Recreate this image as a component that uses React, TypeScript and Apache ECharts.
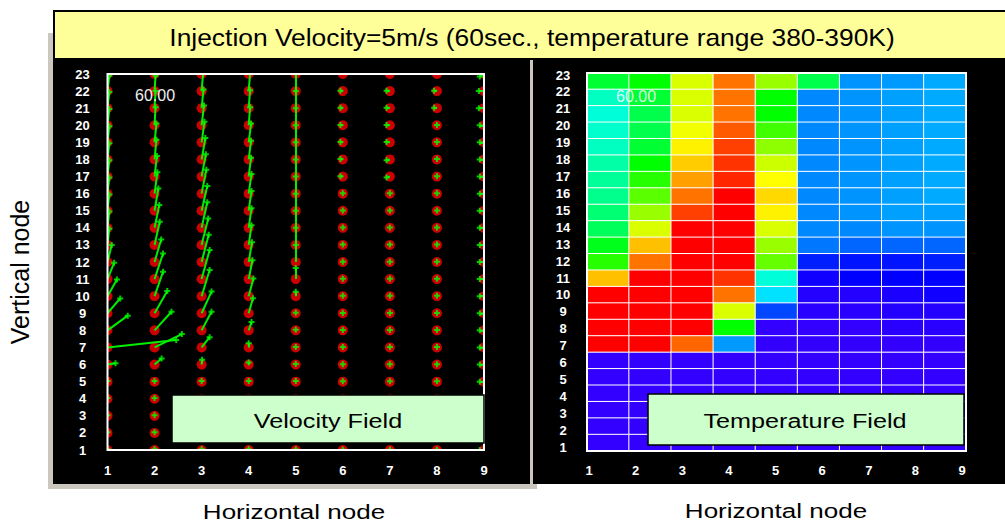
import React, { useEffect, useRef } from "react";
import * as echarts from "echarts";

// ---------- Data ----------
const xNodes = [1, 2, 3, 4, 5, 6, 7, 8, 9];
const yNodes = [1, 2, 3, 4, 5, 6, 7, 8, 9, 10, 11, 12, 13, 14, 15, 16, 17, 18, 19, 20, 21, 22, 23];
const xCategories = ["1", "2", "3", "4", "5", "6", "7", "8", "9"];
const yCategories = yNodes.map(String);

// Velocity components per column (index 0 = vertical node 1 ... index 22 = node 23), in node units
const velU = [
  [0, 0, 0, 0, 0, 0.17, 1.46, 0.43, 0.27, 0.2, 0.14, 0.09, 0.04, 0.04, 0.04, 0.04, 0.04, 0.04, 0.04, 0.04, 0.04, 0.04, 0],
  [0, 0, 0, 0, 0, 0.15, 0.58, 0.36, 0.27, 0.18, 0.18, 0.14, 0.11, 0.1, 0.08, 0.06, 0.05, 0.04, 0.04, 0.02, 0.02, 0.02, 0],
  [0, 0, 0, 0, 0, 0.01, 0.17, 0.21, 0.21, 0.17, 0.17, 0.15, 0.14, 0.12, 0.12, 0.1, 0.09, 0.08, 0.06, 0.05, 0.04, 0.03, 0],
  [0, 0, 0, 0, 0, 0, 0, 0.06, 0.09, 0.1, 0.08, 0.07, 0.06, 0.06, 0.06, 0.06, 0.05, 0.05, 0.05, 0.03, 0.03, 0.03, 0],
  [0, 0, 0, 0, 0, 0, 0, 0, 0, 0, 0, 0, 0, 0, 0, 0, 0, 0, 0, 0, 0, 0, 0],
  [0, 0, 0, 0, 0, 0, 0, 0, 0, 0, 0, 0, 0, 0, 0, 0, -0.05, -0.05, -0.05, -0.05, -0.05, -0.05, 0],
  [0, 0, 0, 0, 0, 0, 0, 0, 0, 0, 0, 0, 0, 0, 0, 0, -0.07, -0.07, -0.07, -0.07, -0.07, -0.07, 0],
  [0, 0, 0, 0, 0, 0, 0, 0, 0, 0, 0, 0, 0, 0, 0, 0, 0, 0, 0, 0, -0.06, -0.06, -0.02],
  [-0.09, -0.09, -0.09, -0.09, -0.09, -0.09, -0.09, -0.09, -0.09, -0.09, -0.09, -0.09, -0.09, -0.09, -0.09, -0.09, -0.09, -0.09, -0.09, -0.09, -0.11, -0.11, -0.09],
];
const velV = [
  [0.04, 0.04, 0.04, 0.04, 0.04, 0.08, 0.43, 0.86, 0.87, 0.98, 0.95, 0.99, 0.95, 0.95, 0.95, 0.95, 0.95, 0.95, 0.95, 0.95, 0.95, 0.9, 0.3],
  [0.04, 0.04, 0.04, 0.04, 0.04, 0.36, 0.78, 1.09, 1.3, 1.43, 1.5, 1.32, 1.35, 1.33, 1.3, 1.25, 1.2, 1.15, 1.1, 1.05, 1.0, 0.9, 0.3],
  [0.04, 0.04, 0.04, 0.04, 0.04, 0.28, 0.6, 1.09, 1.27, 1.53, 1.7, 1.6, 1.55, 1.5, 1.45, 1.4, 1.3, 1.25, 1.2, 1.15, 1.1, 1.0, 0.3],
  [0.04, 0.04, 0.04, 0.04, 0.04, 0.12, 0.24, 0.49, 0.88, 1.04, 1.1, 1.15, 1.15, 1.15, 1.15, 1.15, 1.1, 1.1, 1.1, 1.05, 1.05, 1.05, 0.3],
  [0.03, 0.03, 0.03, 0.03, 0.03, 0.03, 0.03, 0.03, 0.03, 0.26, 0.65, 1.0, 1.0, 1.0, 1.0, 1.0, 1.0, 1.0, 1.0, 1.0, 1.0, 1.0, 0.3],
  [0.02, 0.02, 0.02, 0.02, 0.02, 0.02, 0.02, 0.02, 0.02, 0.02, 0.02, 0.02, 0.02, 0.02, 0.02, 0.02, 0.02, 0.02, 0.02, 0.02, 0.02, 0.02, 0.1],
  [0.02, 0.02, 0.02, 0.02, 0.02, 0.02, 0.02, 0.02, 0.02, 0.02, 0.02, 0.02, 0.02, 0.02, 0.02, 0.02, -0.05, -0.05, 0.02, 0.02, 0.02, 0.02, 0.02],
  [0.02, 0.02, 0.02, 0.02, 0.02, 0.02, 0.02, 0.02, 0.02, 0.02, 0.02, 0.02, 0.02, 0.02, 0.02, 0.02, 0.02, 0.02, 0.02, 0.02, 0.02, 0.02, 0.02],
  [0, 0, 0, 0, 0, 0, 0, 0, 0, 0, 0, 0, 0, 0, 0, 0, 0, 0, 0, 0, 0, 0, -0.15],
];

// Temperature (K) per row, listed from vertical node 23 (top) down to node 1; columns = horizontal nodes 1..9
const tempRowsTopDown = [
  [385.6, 386.0, 387.7, 389.1, 387.2, 385.4, 382.8, 382.9, 383.1],
  [384.5, 385.6, 387.7, 389.1, 386.0, 382.6, 382.8, 383.0, 383.1],
  [384.3, 385.4, 387.7, 389.1, 386.0, 382.6, 382.8, 383.0, 383.1],
  [384.4, 385.4, 387.9, 389.3, 386.5, 382.6, 382.8, 383.0, 383.1],
  [384.5, 385.6, 388.1, 389.5, 387.1, 382.6, 382.8, 383.0, 383.1],
  [384.7, 386.0, 388.4, 389.6, 387.6, 382.6, 382.8, 383.0, 383.1],
  [384.8, 386.3, 388.75, 389.7, 388.0, 382.6, 382.8, 383.0, 383.1],
  [384.9, 386.7, 389.1, 390.0, 388.3, 382.6, 382.8, 383.0, 383.1],
  [385.1, 387.2, 389.5, 390.0, 388.1, 382.6, 382.8, 383.0, 383.0],
  [385.3, 387.7, 390.0, 390.0, 387.7, 382.6, 382.6, 382.8, 382.8],
  [385.8, 388.5, 390.0, 390.0, 387.2, 382.3, 382.0, 382.0, 382.0],
  [386.3, 389.1, 390.0, 390.0, 386.8, 381.3, 381.2, 381.2, 381.3],
  [388.5, 390.0, 390.0, 389.6, 384.3, 380.7, 381.0, 381.0, 381.0],
  [390.0, 390.0, 390.0, 389.1, 383.7, 380.3, 380.3, 380.5, 380.7],
  [390.0, 390.0, 390.0, 387.7, 381.7, 380.2, 380.2, 380.3, 380.3],
  [390.0, 390.0, 390.0, 386.0, 380.0, 380.0, 380.0, 380.2, 380.2],
  [390.0, 390.0, 389.2, 382.9, 380.0, 380.0, 380.0, 380.0, 380.0],
  [380.0, 380.0, 380.0, 380.0, 380.0, 380.0, 380.0, 380.0, 380.0],
  [380.0, 380.0, 380.0, 380.0, 380.0, 380.0, 380.0, 380.0, 380.0],
  [380.0, 380.0, 380.0, 380.0, 380.0, 380.0, 380.0, 380.0, 380.0],
  [380.0, 380.0, 380.0, 380.0, 380.0, 380.0, 380.0, 380.0, 380.0],
  [380.0, 380.0, 380.0, 380.0, 380.0, 380.0, 380.0, 380.0, 380.0],
  [380.0, 380.0, 380.0, 380.0, 380.0, 380.0, 380.0, 380.0, 380.0],
];
const tempMin = 380;
const tempMax = 390;
const tempColors = [
  "#3300ff", "#0000ff", "#0066ff", "#00a0ff", "#00ffff", "#00ff80",
  "#00ff00", "#80ff00", "#ffff00", "#ff8000", "#ff0000",
];

const titleText = "Injection Velocity=5m/s (60sec., temperature range 380-390K)";
const timeLabel = "60.00";

// ---------- Component ----------
export default function App() {
  const ref = useRef<HTMLDivElement>(null);

  useEffect(() => {
    if (!ref.current) return;
    const chart = echarts.init(ref.current, null, { renderer: "svg" });

    const nodePoints: number[][] = [];
    const vectorLines: any[] = [];
    const arrowHeads: number[][] = [];
    xNodes.forEach((x, ci) => {
      yNodes.forEach((y, ri) => {
        nodePoints.push([x, y]);
        const ex = x + velU[ci][ri];
        const ey = y + velV[ci][ri];
        vectorLines.push({ coords: [[x, y], [ex, ey]] });
        arrowHeads.push([ex, ey]);
      });
    });

    const heatData: number[][] = [];
    tempRowsTopDown.forEach((row, r) => {
      row.forEach((t, c) => {
        heatData.push([c, yNodes.length - 1 - r, t]);
      });
    });

    const labelStyle = {
      color: "#fff",
      fontSize: 13,
      fontWeight: "bold" as const,
      fontFamily: "Liberation Sans",
    };
    const noLine = { show: false };

    // left plot frame (px) used for the masks that crop the node dots at the frame
    const fL = 107.5, fT = 74, fW = 376.5, fH = 376;

    const option: any = {
      animation: false,
      backgroundColor: "#ffffff",
      grid: [
        { z: 10, left: fL, top: fT, width: fW, height: fH, show: true, borderColor: "#ffffff", borderWidth: 2, backgroundColor: "transparent" },
        { z: 10, left: 587, top: 73, width: 379, height: 378, show: true, borderColor: "#ffffff", borderWidth: 2, backgroundColor: "transparent" },
      ],
      xAxis: [
        {
          z: 10, gridIndex: 0, type: "value", min: 1, max: 9, interval: 1,
          axisLine: noLine, axisTick: noLine, splitLine: noLine,
          axisLabel: { ...labelStyle, margin: 14 },
        },
        { gridIndex: 1, type: "category", data: xCategories, show: false },
        {
          z: 10, gridIndex: 1, type: "value", min: 0.957, max: 9.086, position: "bottom",
          axisLine: noLine, axisTick: noLine, splitLine: noLine,
          axisLabel: { ...labelStyle, margin: 13, customValues: xNodes },
        },
      ],
      yAxis: [
        {
          z: 10, gridIndex: 0, type: "value", min: 1, max: 23, interval: 1,
          axisLine: noLine, axisTick: noLine, splitLine: noLine,
          axisLabel: { ...labelStyle, margin: 25, align: "center" },
        },
        { gridIndex: 1, type: "category", data: yCategories, show: false },
        {
          z: 10, gridIndex: 1, type: "value", min: 0.78, max: 23.12, position: "left",
          axisLine: noLine, axisTick: noLine, splitLine: noLine,
          axisLabel: { ...labelStyle, margin: 24, align: "center", customValues: yNodes },
        },
      ],
      visualMap: {
        show: false,
        type: "continuous",
        min: tempMin,
        max: tempMax,
        seriesIndex: 3,
        inRange: { color: tempColors },
      },
      series: [
        {
          type: "scatter", xAxisIndex: 0, yAxisIndex: 0, data: nodePoints,
          symbol: "circle", symbolSize: 10, clip: true, z: 2,
          itemStyle: { color: "#ff0000" }, silent: true,
        },
        {
          type: "lines", coordinateSystem: "cartesian2d", xAxisIndex: 0, yAxisIndex: 0,
          data: vectorLines, clip: true, z: 3, silent: true,
          lineStyle: { color: "#00ee00", width: 2, opacity: 1 },
        },
        {
          type: "scatter", xAxisIndex: 0, yAxisIndex: 0, data: arrowHeads,
          symbol: "path://M2 0h2v2h2v2h-2v2h-2v-2h-2v-2h2z", symbolSize: 6,
          clip: true, z: 4, silent: true,
          itemStyle: { color: "#00ff00" },
        },
        {
          type: "heatmap", xAxisIndex: 1, yAxisIndex: 1, data: heatData, silent: true,
          itemStyle: { borderColor: "#ffffff", borderWidth: 1 },
        },
      ],
      graphic: {
        elements: [
          { type: "rect", z: -10, silent: true, shape: { x: 48, y: 33, width: 489, height: 456 }, style: { fill: "#cbc7bf" } },
          { type: "rect", z: -9, silent: true, shape: { x: 53, y: 60, width: 477, height: 424 }, style: { fill: "#000000" } },
          { type: "rect", z: -9, silent: true, shape: { x: 533, y: 60, width: 472, height: 424 }, style: { fill: "#000000" } },
          // masks outside the left frame (crop dots that straddle the frame)
          { type: "rect", z: 5, silent: true, shape: { x: 53, y: 60, width: fL - 53, height: 424 }, style: { fill: "#000000" } },
          { type: "rect", z: 5, silent: true, shape: { x: fL + fW, y: 60, width: 530 - fL - fW, height: 424 }, style: { fill: "#000000" } },
          { type: "rect", z: 5, silent: true, shape: { x: 53, y: 60, width: 477, height: fT - 60 }, style: { fill: "#000000" } },
          { type: "rect", z: 5, silent: true, shape: { x: 53, y: fT + fH, width: 477, height: 484 - fT - fH }, style: { fill: "#000000" } },
          { type: "rect", z: 20, silent: true, shape: { x: 54, y: 11, width: 960, height: 48 }, style: { fill: "#ffff99", stroke: "#000000", lineWidth: 2 } },
          {
            type: "text", z: 21, silent: true, x: 532, y: 37, scaleX: 1.1,
            style: { text: titleText, fill: "#000", fontSize: 24, fontFamily: "Liberation Sans", align: "center", verticalAlign: "middle" },
          },
          { type: "rect", z: 20, silent: true, shape: { x: 172, y: 395, width: 312, height: 48 }, style: { fill: "#ccffcc", stroke: "#000000", lineWidth: 1.5 } },
          {
            type: "text", z: 21, silent: true, x: 328, y: 421, scaleX: 1.2,
            style: { text: "Velocity Field", fill: "#000", fontSize: 21, fontFamily: "Liberation Sans", align: "center", verticalAlign: "middle" },
          },
          { type: "rect", z: 20, silent: true, shape: { x: 648, y: 394, width: 316, height: 51 }, style: { fill: "#ccffcc", stroke: "#000000", lineWidth: 1.5 } },
          {
            type: "text", z: 21, silent: true, x: 805, y: 421, scaleX: 1.2,
            style: { text: "Temperature Field", fill: "#000", fontSize: 21, fontFamily: "Liberation Sans", align: "center", verticalAlign: "middle" },
          },
          {
            type: "text", z: 21, silent: true, x: 155, y: 95,
            style: { text: timeLabel, fill: "#eeeeee", fontSize: 16, fontFamily: "Liberation Sans", align: "center", verticalAlign: "middle" },
          },
          {
            type: "text", z: 21, silent: true, x: 636, y: 96,
            style: { text: timeLabel, fill: "rgba(255,255,255,0.85)", fontSize: 16, fontFamily: "Liberation Sans", align: "center", verticalAlign: "middle" },
          },
          {
            type: "text", z: 21, silent: true, x: 20, y: 272, rotation: Math.PI / 2,
            style: { text: "Vertical node", fill: "#000", fontSize: 25, fontFamily: "Liberation Sans", align: "center", verticalAlign: "middle" },
          },
          {
            type: "text", z: 21, silent: true, x: 294, y: 512, scaleX: 1.24,
            style: { text: "Horizontal node", fill: "#000", fontSize: 21, fontFamily: "Liberation Sans", align: "center", verticalAlign: "middle" },
          },
          {
            type: "text", z: 21, silent: true, x: 776, y: 511, scaleX: 1.24,
            style: { text: "Horizontal node", fill: "#000", fontSize: 21, fontFamily: "Liberation Sans", align: "center", verticalAlign: "middle" },
          },
        ],
      },
    };

    chart.setOption(option);
    return () => chart.dispose();
  }, []);

  return (
    <div
      ref={ref}
      style={{ position: "absolute", left: 0, top: 0, width: 1005, height: 526, background: "#fff" }}
    />
  );
}
